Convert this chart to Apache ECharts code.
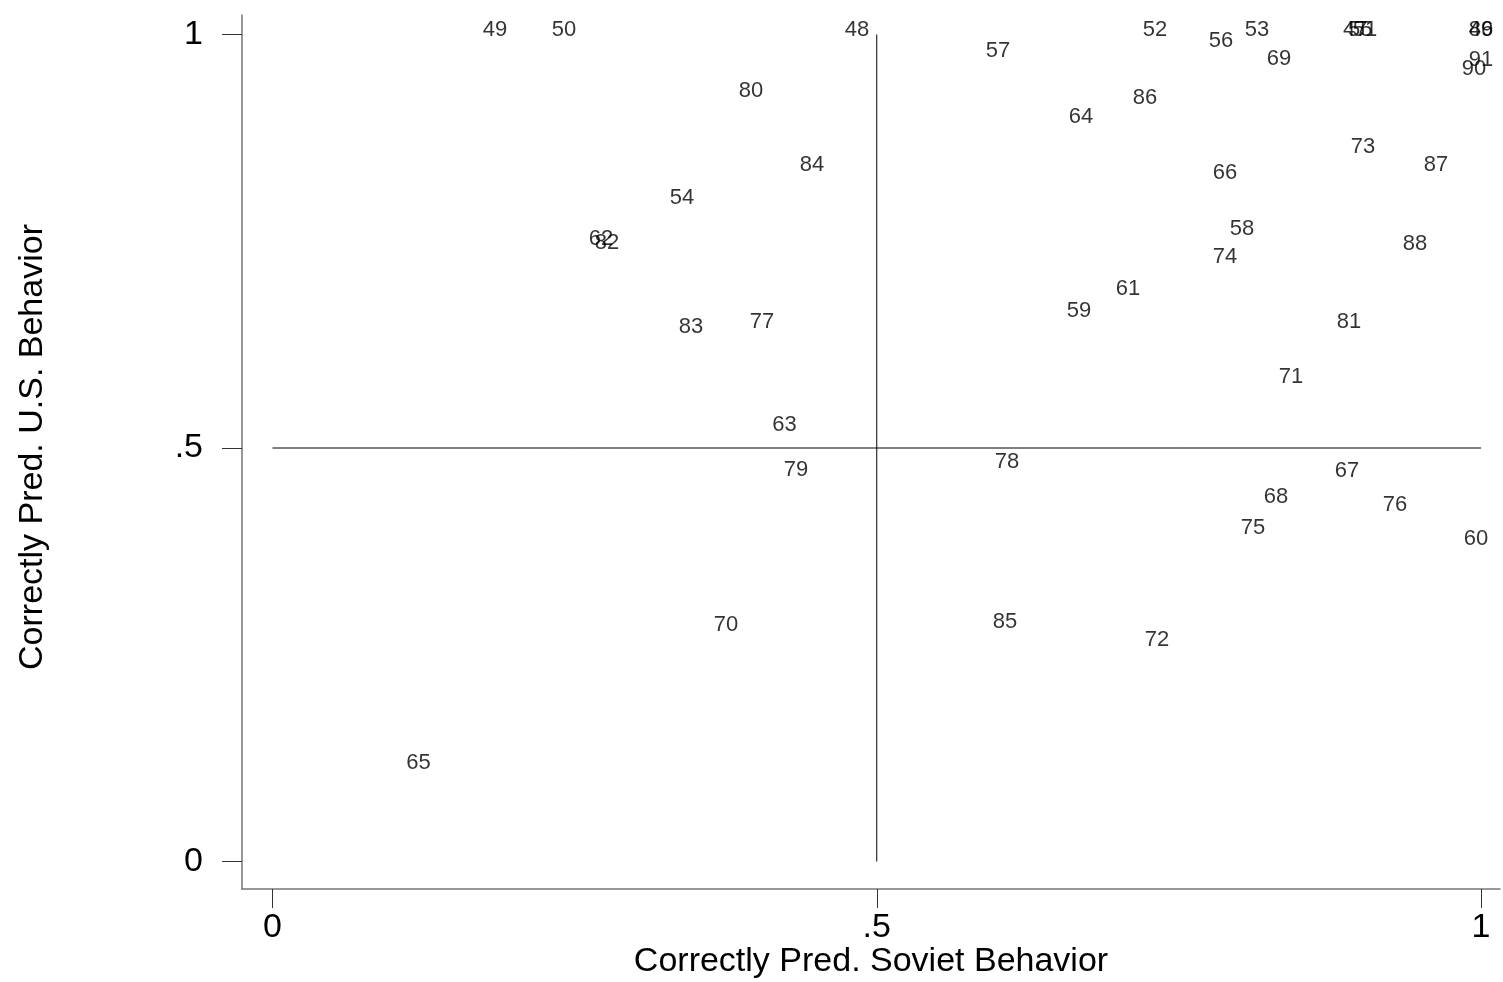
<!DOCTYPE html>
<html>
<head>
<meta charset="utf-8">
<script src="https://cdn.jsdelivr.net/npm/echarts@6/dist/echarts.min.js"></script>
<style>
html,body{margin:0;padding:0;background:#fff;}
#chart{width:1503px;height:982px;}
</style>
</head>
<body>
<div id="chart"></div>
<script>
// Year labels (19xx)
const years = [46,47,48,49,50,51,52,53,54,55,56,57,58,59,60,61,62,63,64,65,66,67,68,69,70,71,72,73,74,75,76,77,78,79,80,81,82,83,84,85,86,87,88,89,90,91];
// Correctly predicted Soviet behavior (x)
const sovietPred = [1.0,0.896,0.4836,0.1841,0.2412,0.904,0.7302,0.8146,0.3389,0.900,0.7849,0.6003,0.8022,0.6674,0.9959,0.7079,0.2718,0.4237,0.6690,0.1208,0.7881,0.8891,0.8304,0.8329,0.3753,0.8428,0.7319,0.9024,0.7881,0.8113,0.9288,0.4051,0.6078,0.4331,0.3959,0.8908,0.2768,0.3463,0.4464,0.6061,0.7220,0.9628,0.9454,1.0,0.9942,1.0];
// Correctly predicted U.S. behavior (y)
const usPred = [1.0,1.0,1.0,1.0,1.0,1.0,1.0,1.0,0.7963,1.0,0.9861,0.9740,0.7588,0.6596,0.3839,0.6862,0.7467,0.5218,0.8942,0.1137,0.8265,0.4661,0.4347,0.9643,0.2799,0.5798,0.2618,0.8579,0.7249,0.3972,0.4250,0.6463,0.4770,0.4680,0.9256,0.6463,0.7418,0.6403,0.8362,0.2836,0.9172,0.8362,0.7406,1.0,0.9522,0.9631];
// Tick values and labels
const tickValues = [0, 0.5, 1];
const tickLabels = ['0', '.5', '1'];
// Reference lines
const refH = [[0, 0.5], [1, 0.5]];
const refV = [[0.5, 0], [0.5, 1]];

const points = years.map((yr, i) => [sovietPred[i], usPred[i], yr]);
const FONT = '"Liberation Sans", Arial, sans-serif';

const tickFmt = v => {
  const i = tickValues.findIndex(t => Math.abs(t - v) < 1e-9);
  return i >= 0 ? tickLabels[i] : '';
};

const chart = echarts.init(document.getElementById('chart'), null, {renderer: 'canvas'});
chart.setOption({
  animation: false,
  backgroundColor: '#ffffff',
  grid: {left: 242, top: 15, right: 3, bottom: 93, containLabel: false, outerBoundsMode: 'none'},
  xAxis: {
    type: 'value',
    min: -0.02524, max: 1.01572,
    name: 'Correctly Pred. Soviet Behavior',
    nameLocation: 'middle', nameGap: 56, nameMoveOverlap: false,
    nameTextStyle: {fontFamily: FONT, fontSize: 34, color: '#000'},
    axisLine: {show: true, onZero: false, lineStyle: {color: '#777', width: 1.5}},
    axisTick: {show: true, inside: false, length: 19, customValues: tickValues, lineStyle: {color: '#333', width: 1}},
    axisLabel: {customValues: tickValues, formatter: tickFmt, fontFamily: FONT, fontSize: 34, color: '#000', margin: 22},
    splitLine: {show: false}
  },
  yAxis: {
    type: 'value',
    min: -0.03325, max: 1.02358,
    name: 'Correctly Pred. U.S. Behavior',
    nameLocation: 'middle', nameGap: 192, nameMoveOverlap: false,
    nameTextStyle: {fontFamily: FONT, fontSize: 34, color: '#000', padding: [0, 0, 0, 10]},
    axisLine: {show: true, onZero: false, lineStyle: {color: '#777', width: 1.5}},
    axisTick: {show: true, inside: false, length: 20, customValues: tickValues, lineStyle: {color: '#333', width: 1}},
    axisLabel: {customValues: tickValues, formatter: tickFmt, fontFamily: FONT, fontSize: 34, color: '#000', margin: 39},
    splitLine: {show: false}
  },
  series: [
    {
      type: 'line', data: refH, symbol: 'none', silent: true,
      lineStyle: {color: '#000', width: 1}
    },
    {
      type: 'line', data: refV, symbol: 'none', silent: true,
      lineStyle: {color: '#000', width: 1}
    },
    {
      type: 'scatter',
      data: points,
      symbolSize: 0,
      silent: true,
      label: {
        show: true,
        position: 'inside',
        offset: [0, -5],
        formatter: p => String(p.value[2]),
        fontFamily: FONT, fontSize: 22, color: '#000'
      }
    }
  ]
});
</script>
</body>
</html>
